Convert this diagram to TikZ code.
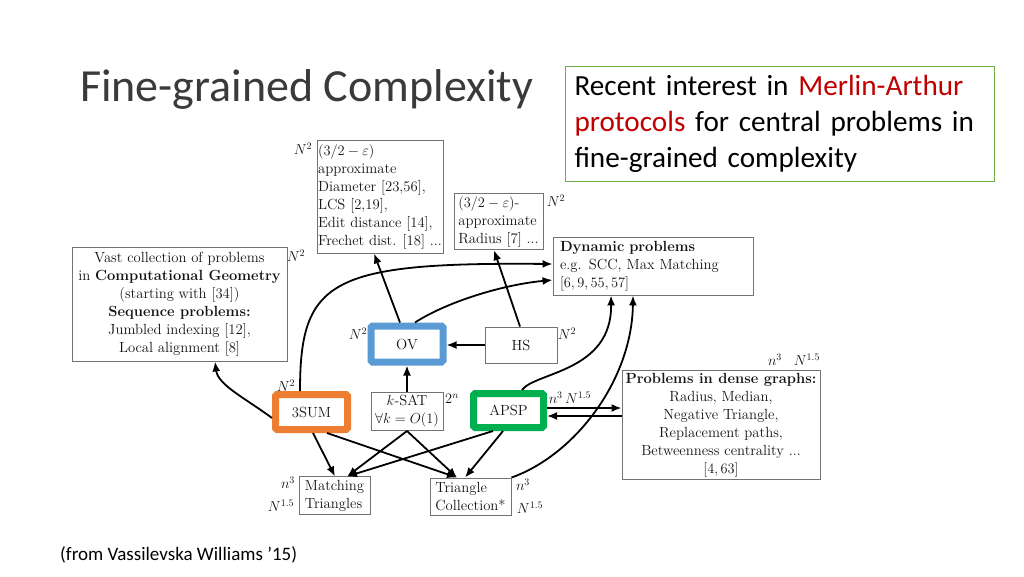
\documentclass[tikz,border=0pt]{standalone}
\usepackage{fontspec}
\newfontfamily\slidefont{Carlito}
\usetikzlibrary{arrows.meta}
\definecolor{ovblue}{HTML}{5B9BD5}
\definecolor{sumorange}{HTML}{ED7D31}
\definecolor{apspgreen}{HTML}{00B050}
\definecolor{boxgreen}{HTML}{70AD47}
\definecolor{mared}{HTML}{C00000}
\definecolor{titlegray}{HTML}{3A3A3A}
\begin{document}
\begin{tikzpicture}[x=1pt,y=-1pt,
  every node/.style={font=\fontsize{14.7}{18}\selectfont, text=black!92},
  pbox/.style={draw=black!55, line width=0.9pt, inner sep=3pt, fill=white},
  hbox/.style={draw=#1, line width=7pt, rounded corners=1.5pt, fill=white, inner sep=2pt},
  arr/.style={-{Latex[length=10pt,width=8pt]}, line width=1.8pt, black},
  lab/.style={inner sep=0pt, text=black!92},
]
\useasboundingbox[fill=white] (0,0) rectangle (1024,576);

% slide texts
\node[anchor=base west, inner sep=0pt, font=\slidefont\fontsize{46}{50}\selectfont, text=titlegray] (title) at (80,101) {Fine-grained Complexity};
\node[draw=boxgreen, line width=1pt, anchor=north west, inner xsep=9pt, inner ysep=0pt,
      text width=411pt, minimum height=115pt, align=left,
      font=\slidefont\fontsize{29.2}{36}\selectfont, text=black] (note) at (565,66)
  {Recent interest in \textcolor{mared}{Merlin-Arthur}\\\textcolor{mared}{protocols} for central problems in\\fine-grained complexity};
\node[anchor=base west, inner sep=0pt, font=\slidefont\fontsize{19}{22}\selectfont, text=black] (src) at (60,560) {(from Vassilevska Williams ’15)};

% complexity labels (drawn first, boxes may overlap them)
\node[lab] (l1) at (303,149) {$N^2$};
\node[lab] (l2) at (556,201) {$N^2$};
\node[lab] (l3) at (296,256) {$N^2$};
\node[lab] (l4) at (358,334) {$N^2$};
\node[lab] (l5) at (567,334) {$N^2$};
\node[lab] (l6) at (286,386) {$N^2$};
\node[lab] (l7) at (452,399) {$2^n$};
\node[lab] (l8) at (570,398) {$n^3\,N^{1.5}$};
\node[lab] (l9) at (794,360) {$n^3\;\;\;N^{1.5}$};
\node[lab] (l10) at (288,483) {$n^3$};
\node[lab] (l11) at (281,506) {$N^{1.5}$};
\node[lab] (l12) at (523,485) {$n^3$};
\node[lab] (l13) at (530,508) {$N^{1.5}$};

% problem boxes
\node[pbox, inner xsep=1pt, minimum width=126pt, minimum height=113pt, align=left] (diam) at (380,196.5)
  {$(3/2-\varepsilon)$\\approximate\\Diameter [23,56],\\LCS [2,19],\\Edit distance [14],\\Frechet dist. [18] ...};
\node[pbox, minimum width=89pt, minimum height=53pt, align=left] (rad) at (498.5,221.5)
  {$(3/2-\varepsilon)$-\\approximate\\Radius [7] ...};
\node[pbox, minimum width=215pt, minimum height=114pt, align=center] (vast) at (179.5,304)
  {Vast collection of problems\\in \textbf{Computational Geometry}\\(starting with [34])\\\textbf{Sequence problems:}\\Jumbled indexing [12],\\Local alignment [8]};
\node[pbox, minimum width=200pt, minimum height=58pt, inner xsep=7pt, text width=186pt, align=left] (dyn) at (653,266)
  {\textbf{Dynamic problems}\\e.g. SCC, Max Matching\\$[6,9,55,57]$};
\node[hbox=ovblue, minimum width=72pt, minimum height=36pt] (ov) at (407,344) {OV};
\node[pbox, minimum width=72pt, minimum height=36pt] (hs) at (521,345) {HS};
\node[hbox=sumorange, minimum width=72pt, minimum height=35pt] (sum) at (311.5,412) {3SUM};
\node[pbox, minimum width=72pt, minimum height=37pt, align=center] (ksat) at (407,411.5)
  {$k$-SAT\\$\forall k=O(1)$};
\node[hbox=apspgreen, minimum width=70pt, minimum height=34pt] (apsp) at (508.5,410.5) {APSP};
\node[pbox, inner xsep=2pt, minimum width=198pt, minimum height=106pt, align=center] (dense) at (721,425)
  {\textbf{Problems in dense graphs:}\\Radius, Median,\\Negative Triangle,\\Replacement paths,\\Betweenness centrality ...\\$[4,63]$};
\node[pbox, minimum width=71pt, minimum height=35pt, align=left] (match) at (334.5,495.5)
  {Matching\\Triangles};
\node[pbox, minimum width=81pt, minimum height=37pt, align=left] (tri) at (470.5,496.5)
  {Triangle\\Collection*};

% connectors
\draw[arr] ([xshift=-7pt]ov.north) -- ([xshift=-6pt]diam.south);
\draw[arr] ([xshift=-1pt]hs.north) -- ([xshift=-4.5pt]rad.south);
\draw[arr] ([xshift=-11.5pt]sum.north) .. controls (300,280) and (330,262) .. ([yshift=2pt]dyn.west);
\draw[arr] ([xshift=8pt]ov.north) .. controls (445,303) and (500,285) .. ([yshift=-14pt]dyn.west);
\draw[arr] ([yshift=-6pt]sum.west) .. controls (245,398) and (218,385) .. ([xshift=35.5pt]vast.south);
\draw[arr] (hs.west) -- (hs.west -| ov.east);
\draw[arr] (ksat.north) -- (ksat.north |- ov.south);
\draw[arr] ([xshift=13.5pt]apsp.north) .. controls (535,372) and (612,372) .. ([xshift=-42pt]dyn.south);
\draw[arr] (tri.north east) .. controls (575,455) and (632,380) .. ([xshift=-20pt]dyn.south);
\coordinate (u1) at ([yshift=2.5pt]apsp.east);
\coordinate (d1) at ([yshift=-5.5pt]apsp.east);
\draw[arr] (u1) -- (u1 -| dense.west);
\draw[arr] (d1 -| dense.west) -- (d1);
\draw[arr] ([xshift=1.5pt]sum.south) -- ([xshift=0.5pt]match.north);
\draw[arr] ([xshift=15.5pt]sum.south) -- ([xshift=-13.5pt]tri.north);
\draw[arr] (ksat.south) -- ([xshift=12.5pt]match.north);
\draw[arr] (ksat.south) -- ([xshift=-13.5pt]tri.north);
\draw[arr] ([xshift=-15.5pt]apsp.south) -- ([xshift=12.5pt]match.north);
\draw[arr] ([xshift=-5.5pt]apsp.south) -- ([xshift=-5.5pt]tri.north);
\end{tikzpicture}
\end{document}
